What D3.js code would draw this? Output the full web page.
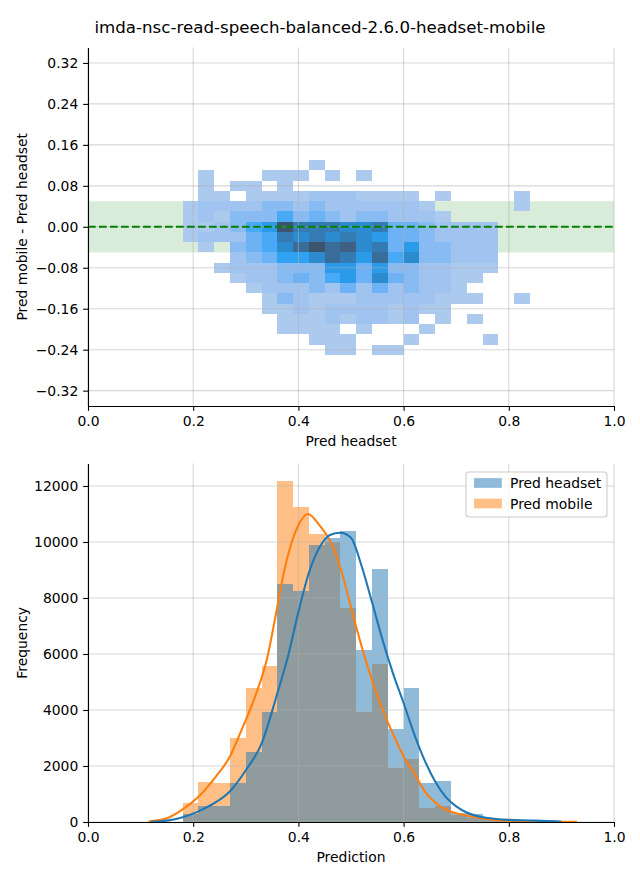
<!DOCTYPE html>
<html><head><meta charset="utf-8">
<script src="https://cdn.jsdelivr.net/npm/d3@7"></script>
<style>
body{margin:0;background:#fff}
text{font-family:"DejaVu Sans",sans-serif;fill:#000}
</style>
</head><body><svg id="c" width="640" height="880"></svg>
<script>
// ---------------- DATA ----------------
const title = "imda-nsc-read-speech-balanced-2.6.0-headset-mobile";
// 2D histogram (difference vs headset prediction)
const heatXStart = 0.18, heatXStep = 0.03;   // x bin edges
const heatYTop = 0.13, heatYStep = 0.02;      // y bin edges (top to bottom)
const heatCounts = [
 [0,0,0,0,0,0,0,0,1,0,0,0,0,0,0,0,0,0,0,0,0,0],
 [0,1,0,0,0,1,1,1,0,1,0,1,0,0,0,0,0,0,0,0,0,0],
 [0,1,0,1,1,0,1,0,0,0,0,0,0,0,0,0,0,0,0,0,0,0],
 [0,1,1,0,1,1,1,1,6,6,6,1,1,1,1,0,1,0,0,0,0,1],
 [1,6,6,6,6,14,14,6,14,6,6,6,6,6,6,1,0,0,0,0,0,1],
 [1,6,1,14,14,14,30,14,22,14,6,14,14,6,6,6,1,0,0,0,0,0],
 [1,1,6,14,30,42,100,68,68,68,55,55,68,22,22,14,6,6,6,6,0,0],
 [1,6,6,6,22,30,68,55,68,55,68,55,42,22,22,14,6,6,6,6,0,0],
 [0,1,0,14,22,30,55,80,100,80,90,55,68,22,42,14,14,6,6,6,0,0],
 [0,0,0,6,14,22,36,36,55,80,68,42,80,30,55,14,14,6,6,6,0,0],
 [0,0,1,6,6,6,14,14,14,42,42,22,42,14,14,6,6,1,1,1,0,0],
 [0,0,0,1,6,6,14,22,14,30,42,22,55,22,14,6,6,1,1,0,0,0],
 [0,0,0,0,1,6,6,6,14,6,22,6,22,6,14,6,6,1,0,0,0,0],
 [0,0,0,0,0,1,14,6,1,1,1,6,6,6,6,6,1,1,1,0,0,1],
 [0,0,0,0,0,1,1,6,1,6,6,6,6,1,6,1,1,0,0,0,0,0],
 [0,0,0,0,0,0,1,1,1,6,1,6,6,1,6,0,1,0,1,0,0,0],
 [0,0,0,0,0,0,1,1,1,1,0,1,0,0,0,1,0,0,0,0,0,0],
 [0,0,0,0,0,0,0,0,1,1,1,0,0,0,1,0,0,0,0,1,0,0],
 [0,0,0,0,0,0,0,0,0,1,1,0,1,1,0,0,0,0,0,0,0,0]
];
const bandHalfWidth = 0.05;
const diffTicks = [-0.32,-0.24,-0.16,-0.08,0,0.08,0.16,0.24,0.32];
const predTicks = [0,0.2,0.4,0.6,0.8,1.0];

// 1D histograms
const histBinStart = 0.18, histBinWidth = 0.03;
const headsetCounts = [270,570,570,1400,2510,3940,8510,8260,9890,10150,10390,6140,9040,3320,4780,1390,1460,320,300,160,60,30];
const mobileCounts  = [680,1430,1380,3010,4790,5570,12190,11250,10290,10000,7650,3940,5640,1940,2250,510,570,235,150,80,30,15];
const kdeHeadsetX = [0.12,0.15,0.18,0.21,0.24,0.27,0.30,0.33,0.36,0.38,0.40,0.42,0.44,0.46,0.48,0.50,0.52,0.54,0.56,0.58,0.60,0.62,0.64,0.66,0.68,0.70,0.72,0.74,0.76,0.78,0.80,0.84,0.88,0.90];
const kdeHeadsetY = [10,50,170,380,670,1100,1850,2800,4600,5900,7500,8900,9800,10250,10330,10150,9150,7850,6500,5300,4250,3150,2200,1450,900,560,340,210,140,100,75,55,30,5];
const kdeMobileX = [0.115,0.15,0.18,0.21,0.24,0.27,0.29,0.32,0.34,0.355,0.37,0.385,0.40,0.418,0.44,0.465,0.485,0.505,0.53,0.555,0.575,0.60,0.62,0.64,0.67,0.70,0.73,0.76,0.80,0.85,0.93];
const kdeMobileY = [20,130,450,900,1550,2350,3200,4600,5800,7200,8700,9850,10600,11000,10600,9850,8750,7300,5650,4250,3350,2350,1750,1100,550,310,190,100,45,25,5];
const freqTicks = [0,2000,4000,6000,8000,10000,12000];
const seriesNames = ["Pred headset","Pred mobile"];

// ---------------- HUSL (as used by seaborn) ----------------
const hm = [[3.2406,-1.5372,-0.4986],[-0.9689,1.8758,0.0415],[0.0557,-0.2040,1.0570]];
const hmInv = [[0.4124,0.3576,0.1805],[0.2126,0.7152,0.0722],[0.0193,0.1192,0.9505]];
const refU=0.19784, refV=0.46834, labE=0.008856, labK=903.3;
function maxChroma(L,H){const h=H*Math.PI/180,s=Math.sin(h),c=Math.cos(h);const sub1=Math.pow(L+16,3)/1560896;const sub2=sub1>0.008856?sub1:L/903.3;let res=Infinity;for(const [m1,m2,m3] of hm){const top=(0.99915*m1+1.05122*m2+1.14460*m3)*sub2;const rb=0.86330*m3-0.17266*m2;const lb=0.12949*m3-0.38848*m1;const bottom=(rb*s+lb*c)*sub2;for(const t of [0,1]){const C=L*(top-1.05122*t)/(bottom+0.17266*s*t);if(C>0&&C<res)res=C;}}return res;}
const fY=t=>t>labE?Math.cbrt(t):7.787*t+16/116;
const fInv=t=>Math.pow(t,3)>labE?Math.pow(t,3):(116*t-16)/labK;
const fromLin=c=>c<=0.0031308?12.92*c:1.055*Math.pow(c,1/2.4)-0.055;
const toLin=c=>c>0.04045?Math.pow((c+0.055)/1.055,2.4):c/12.92;
function rgbToHusl(r,g,b){const l=[toLin(r),toLin(g),toLin(b)];const [X,Y,Z]=hmInv.map(row=>row[0]*l[0]+row[1]*l[1]+row[2]*l[2]);const d=X+15*Y+3*Z;const vu=4*X/d,vv=9*Y/d;const L=116*fY(Y)-16;const U=13*L*(vu-refU),V=13*L*(vv-refV);const C=Math.hypot(U,V);let H=Math.atan2(V,U)*180/Math.PI;if(H<0)H+=360;const S=C/maxChroma(L,H)*100;return [H,S,L];}
function huslToRgb(H,S,L){if(L>99.9999999)return [1,1,1];if(L<1e-8)return [0,0,0];const C=maxChroma(L,H)/100*S;const h=H*Math.PI/180;const U=Math.cos(h)*C,V=Math.sin(h)*C;const Y=fInv((L+16)/116);const vu=U/(13*L)+refU,vv=V/(13*L)+refV;const X=-(9*Y*vu)/((vu-4)*vv-vu*vv);const Z=(9*Y-15*vv*Y-vv*X)/(3*vv);return hm.map(row=>Math.min(1,Math.max(0,fromLin(row[0]*X+row[1]*Y+row[2]*Z))));}
function seabornCmap(hex){const c=d3.rgb(hex);const [h,s]=rgbToHusl(c.r/255,c.g/255,c.b/255);const cols=[];for(let i=0;i<256;i++){const xx=-1+2*i/(Math.floor(1.15*256)-1);const L=35+45*i/255;const rgb=huslToRgb(h,s*Math.cos(xx),L);cols.push(d3.rgb(rgb[0]*255,rgb[1]*255,rgb[2]*255).formatHex());}cols.reverse();return t=>cols[Math.max(0,Math.min(255,Math.floor(t*256)))];}

// ---------------- DRAW ----------------
const svg = d3.select("#c");
const FS = 13.9;
const C0 = "#1f77b4", C1 = "#ff7f0e";
svg.append("text").attr("x",320).attr("y",33).attr("text-anchor","middle").style("font-size","16.67px").text(title);

function styleAxis(g){
  g.selectAll("text").style("font-size",FS+"px").style("font-family","DejaVu Sans, sans-serif").attr("fill","#000");
  g.selectAll("line").attr("stroke","#000").attr("stroke-width",1.1);
  g.select(".domain").attr("stroke","#000").attr("stroke-width",1.1);
}
function grid(g, xs, ys, xt, yt){
  const gg = g.append("g").attr("stroke","#b0b0b0").attr("stroke-opacity",0.5).attr("stroke-width",1.1);
  xt.forEach(v=>gg.append("line").attr("x1",xs(v)).attr("x2",xs(v)).attr("y1",ys.range()[0]).attr("y2",ys.range()[1]));
  yt.forEach(v=>gg.append("line").attr("y1",ys(v)).attr("y2",ys(v)).attr("x1",xs.range()[0]).attr("x2",xs.range()[1]));
}

// ---- Axes 1 ----
const x1 = d3.scaleLinear().domain([0,1]).range([88,614]);
const y1 = d3.scaleLinear().domain([-0.35,0.35]).range([406,47.6]);
const g1 = svg.append("g");
g1.append("rect").attr("x",x1(0)).attr("width",x1(1)-x1(0))
  .attr("y",y1(bandHalfWidth)).attr("height",y1(-bandHalfWidth)-y1(bandHalfWidth))
  .attr("fill","green").attr("fill-opacity",0.15);
const allCounts = heatCounts.flat().filter(v=>v>0);
const cmin = d3.min(allCounts), cmax = d3.max(allCounts);
const cmap = seabornCmap(C0);
const cells = [];
heatCounts.forEach((row,j)=>row.forEach((v,i)=>{ if(v>0) cells.push({i,j,v}); }));
g1.append("g").attr("shape-rendering","crispEdges").selectAll("rect").data(cells).join("rect")
  .attr("x",d=>x1(heatXStart+d.i*heatXStep))
  .attr("width",d=>x1(heatXStart+(d.i+1)*heatXStep)-x1(heatXStart+d.i*heatXStep))
  .attr("y",d=>y1(heatYTop-d.j*heatYStep))
  .attr("height",d=>y1(heatYTop-(d.j+1)*heatYStep)-y1(heatYTop-d.j*heatYStep))
  .attr("fill",d=>cmap((d.v-cmin)/(cmax-cmin)));
grid(g1,x1,y1,predTicks,diffTicks);
g1.append("line").attr("x1",x1(0)).attr("x2",x1(1)).attr("y1",y1(0)).attr("y2",y1(0))
  .attr("stroke","green").attr("stroke-width",2.08).attr("stroke-dasharray","7.7,3.3");
g1.append("g").attr("transform","translate(0,406)")
  .call(d3.axisBottom(x1).tickValues(predTicks).tickFormat(d3.format(".1f")).tickSize(4.86).tickPadding(4.86).tickSizeOuter(0)).call(styleAxis);
g1.append("g").attr("transform","translate(88,0)")
  .call(d3.axisLeft(y1).tickValues(diffTicks).tickFormat(d3.format(".2f")).tickSize(4.86).tickPadding(4.86).tickSizeOuter(0)).call(styleAxis);
g1.append("text").attr("x",(x1(0)+x1(1))/2).attr("y",446).attr("text-anchor","middle").style("font-size",FS+"px").text("Pred headset");
g1.append("text").attr("transform",`translate(27,${(y1(-0.35)+y1(0.35))/2}) rotate(-90)`).attr("text-anchor","middle").style("font-size",FS+"px").text("Pred mobile - Pred headset");

// ---- Axes 2 ----
const x2 = d3.scaleLinear().domain([0,1]).range([88,614]);
const ymax = d3.max(mobileCounts.concat(headsetCounts))*1.05;
const y2 = d3.scaleLinear().domain([0,ymax]).range([822,822-ymax*0.028]);
const g2 = svg.append("g");
function bars(data,color){
  g2.append("g").attr("shape-rendering","crispEdges").selectAll("rect").data(data).join("rect")
    .attr("x",(d,i)=>x2(histBinStart+i*histBinWidth))
    .attr("width",(d,i)=>x2(histBinStart+(i+1)*histBinWidth)-x2(histBinStart+i*histBinWidth))
    .attr("y",d=>y2(d)).attr("height",d=>y2(0)-y2(d))
    .attr("fill",color).attr("fill-opacity",0.5);
}
bars(mobileCounts,C1);
bars(headsetCounts,C0);
grid(g2,x2,y2,predTicks,freqTicks);
const line = d3.line().x(d=>x2(d[0])).y(d=>y2(d[1])).curve(d3.curveMonotoneX);
g2.append("path").attr("d",line(kdeMobileX.map((x,i)=>[x,kdeMobileY[i]]))).attr("fill","none").attr("stroke",C1).attr("stroke-width",2.08);
g2.append("path").attr("d",line(kdeHeadsetX.map((x,i)=>[x,kdeHeadsetY[i]]))).attr("fill","none").attr("stroke",C0).attr("stroke-width",2.08);
g2.append("g").attr("transform","translate(0,822)")
  .call(d3.axisBottom(x2).tickValues(predTicks).tickFormat(d3.format(".1f")).tickSize(4.86).tickPadding(4.86).tickSizeOuter(0)).call(styleAxis);
g2.append("g").attr("transform","translate(88,0)")
  .call(d3.axisLeft(y2).tickValues(freqTicks).tickFormat(d3.format("d")).tickSize(4.86).tickPadding(4.86).tickSizeOuter(0)).call(styleAxis);
g2.append("text").attr("x",(x2(0)+x2(1))/2).attr("y",862).attr("text-anchor","middle").style("font-size",FS+"px").text("Prediction");
g2.append("text").attr("transform",`translate(27,${(y2.range()[0]+y2.range()[1])/2}) rotate(-90)`).attr("text-anchor","middle").style("font-size",FS+"px").text("Frequency");

// legend
const lg = svg.append("g");
lg.append("rect").attr("x",466).attr("y",472).attr("width",141).attr("height",45).attr("rx",3)
  .attr("fill","#fff").attr("fill-opacity",0.8).attr("stroke","#cccccc").attr("stroke-width",1.1);
[C0,C1].forEach((c,k)=>{
  const cy = 483 + k*20.5;
  lg.append("rect").attr("x",474).attr("y",cy-4.85).attr("width",27.8).attr("height",9.7).attr("fill",c).attr("fill-opacity",0.5);
  lg.append("text").attr("x",510).attr("y",cy+5).style("font-size",FS+"px").text(seriesNames[k]);
});
</script></body></html>
